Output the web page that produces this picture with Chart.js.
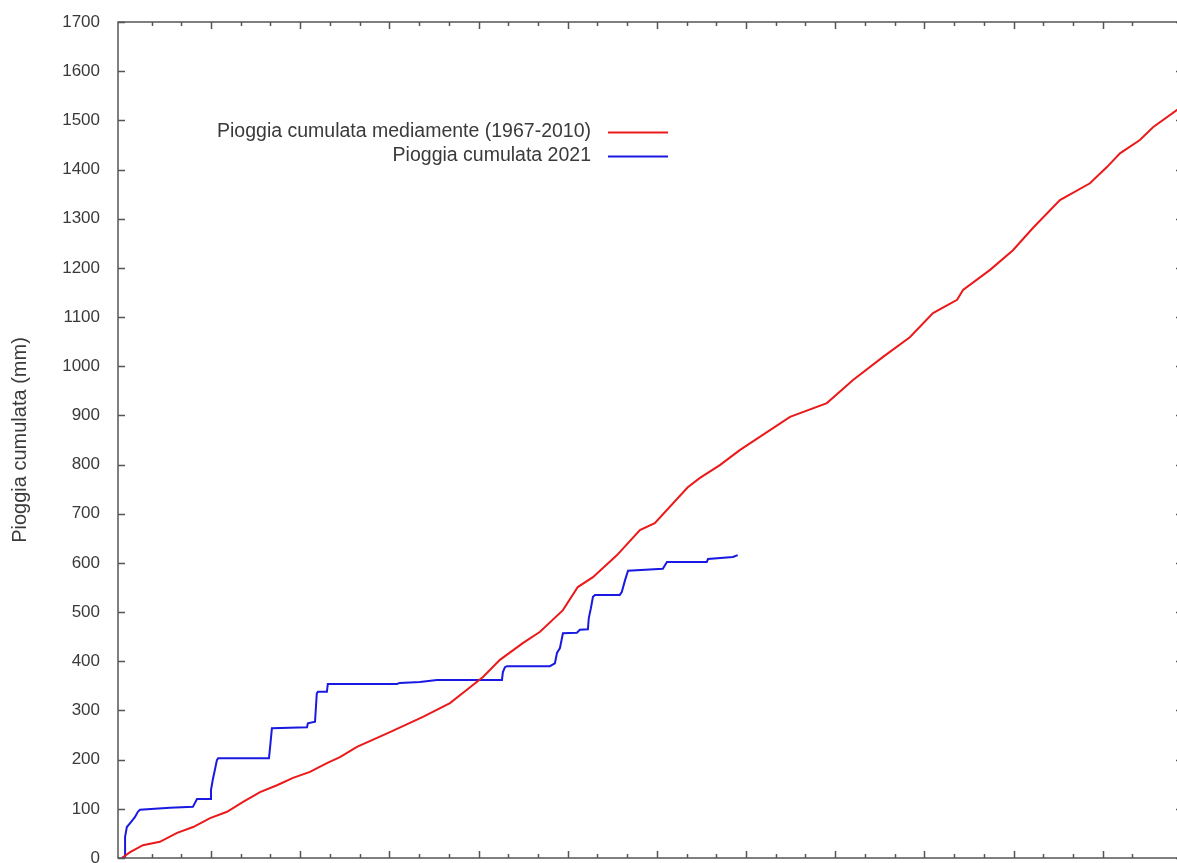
<!DOCTYPE html>
<html>
<head>
<meta charset="utf-8">
<script src="https://cdn.jsdelivr.net/npm/chart.js@4/dist/chart.umd.min.js"></script>
<style>
  html, body { margin: 0; padding: 0; background: #fff; overflow: hidden; }
  #wrap { width: 1190px; height: 863px; }
</style>
</head>
<body>
<div id="wrap"><canvas id="rain" width="1190" height="863"></canvas></div>
<script>
// cumulative rain, x = day of the year, y = mm

const avgDays = [0, 2.8, 7.1, 12.8, 18.6, 24.0, 29.7, 35.4, 40.8, 46.5, 52.2, 57.6, 63.3, 69.0, 73.4,
  79.1, 90.2, 101.3, 110.4, 116.1, 121.5, 127.2, 134.9, 140.7, 148.4, 153.4, 158.5, 166.6, 174.3,
  179.3, 190.4, 194.5, 201.2, 208.0, 224.8, 237.2, 246.0, 256.1, 265.1, 272.9, 281.0, 283.0,
  292.1, 299.8, 306.5, 315.6, 325.7, 331.4, 335.8, 342.5, 346.9, 355.0, 357.0];
const avgMm = [0, 12, 26, 33, 51, 63, 81, 94, 114, 134, 148, 163, 175, 193, 205,
  226, 256, 287, 315, 342, 368, 403, 437, 460, 504, 551, 571, 616, 667,
  681, 754, 773, 799, 830, 897, 925, 972, 1019, 1059, 1108, 1135, 1155,
  1196, 1236, 1281, 1338, 1372, 1405, 1433, 1460, 1486, 1521, 1525];

const rainDays = [0, 1.1, 1.1, 1.7, 2.8, 4.4, 5.4, 6.1, 16.2, 23.9, 25.3, 29.7, 30.0, 30.6, 31.3,
  32.0, 32.4, 49.5, 49.8, 50.5, 62.3, 62.6, 65.0, 65.6, 66.0, 69.0, 69.3, 92.6, 93.5, 100.3,
  106.0, 127.9, 128.2, 128.9, 129.6, 144.0, 145.7, 146.4, 147.4, 148.4, 153.1, 154.1, 156.8,
  157.1, 157.8, 158.5, 159.2, 167.5, 168.2, 169.3, 170.3, 182.0, 183.4, 196.8, 197.2, 205.6, 207.2];
const rainMm = [0, 2, 43, 63, 71, 83, 94, 98, 102, 104, 120, 120, 138, 159, 179,
  199, 203, 203, 220, 264, 266, 274, 277, 335, 338, 338, 354, 354, 356, 358,
  362, 362, 378, 388, 390, 390, 396, 417, 427, 457, 458, 464, 465,
  488, 508, 531, 535, 535, 541, 565, 584, 588, 602, 602, 608, 612, 616];

const seriesLabels = ['Pioggia cumulata mediamente (1967-2010)', 'Pioggia cumulata 2021'];
const yTitle = 'Pioggia cumulata (mm)';

const INK = '#3a3a3a';
const FRAME = '#555';
const FONT = '"Liberation Sans", Arial, sans-serif';

const toPoints = (xs, ys) => xs.map((x, i) => ({ x, y: ys[i] }));

// gnuplot style frame with inward ticks on all four sides
const frame = {
  id: 'frame',
  afterDatasetsDraw(chart) {
    const { ctx, chartArea: a, scales: { x, y } } = chart;
    ctx.save();
    ctx.strokeStyle = FRAME;
    ctx.lineWidth = 1.5;
    ctx.strokeRect(a.left, a.top, a.right - a.left, a.bottom - a.top);
    ctx.beginPath();
    x.ticks.forEach(t => {
      if (t.value < 0) return;
      const px = Math.round(x.getPixelForValue(t.value)) + 0.5;
      const len = t.value % 30 === 0 ? 7 : 4;
      ctx.moveTo(px, a.bottom); ctx.lineTo(px, a.bottom - len);
      ctx.moveTo(px, a.top); ctx.lineTo(px, a.top + len);
    });
    y.ticks.forEach(t => {
      const py = Math.round(y.getPixelForValue(t.value)) + 0.5;
      ctx.moveTo(a.left, py); ctx.lineTo(a.left + 7, py);
      ctx.moveTo(a.right, py); ctx.lineTo(a.right - 7, py);
    });
    ctx.stroke();
    ctx.restore();
  },
};

// key in the upper left: right-aligned text followed by a line sample
const key = {
  id: 'key',
  afterDraw(chart) {
    const { ctx } = chart;
    ctx.save();
    ctx.font = '19.5px ' + FONT;
    ctx.textAlign = 'right';
    ctx.textBaseline = 'middle';
    chart.data.datasets.forEach((ds, i) => {
      const yy = 132 + i * 24;
      ctx.fillStyle = INK;
      ctx.fillText(ds.label, 591, yy);
      ctx.strokeStyle = ds.borderColor;
      ctx.lineWidth = 2;
      ctx.beginPath();
      ctx.moveTo(608, yy + 0.5);
      ctx.lineTo(668, yy + 0.5);
      ctx.stroke();
    });
    ctx.restore();
  },
};

new Chart(document.getElementById('rain'), {
  type: 'line',
  data: {
    datasets: [
      {
        label: seriesLabels[0],
        data: toPoints(avgDays, avgMm),
        borderColor: 'rgb(235,25,25)',
        borderWidth: 2,
        pointRadius: 0,
        tension: 0,
      },
      {
        label: seriesLabels[1],
        data: toPoints(rainDays, rainMm),
        borderColor: 'rgb(25,25,225)',
        borderWidth: 2,
        pointRadius: 0,
        tension: 0,
      },
    ],
  },
  options: {
    responsive: false,
    devicePixelRatio: 1,
    animation: false,
    layout: { padding: { top: 22, bottom: 5, left: 0, right: 7 } },
    plugins: { legend: { display: false }, tooltip: { enabled: false } },
    scales: {
      x: {
        type: 'linear',
        min: -1.28,
        max: 357,
        ticks: { display: false, stepSize: 10 },
        grid: { drawOnChartArea: false, drawTicks: false },
        border: { display: false },
        afterFit: s => { s.height = 0; s.paddingLeft = 0; s.paddingRight = 0; },
      },
      y: {
        min: 0,
        max: 1700,
        ticks: {
          stepSize: 100,
          padding: 18,
          color: INK,
          font: { family: FONT, size: 17 },
          callback: v => String(v),
        },
        grid: { drawOnChartArea: false, drawTicks: false },
        border: { display: false },
        title: {
          display: true,
          text: yTitle,
          color: INK,
          font: { family: FONT, size: 20 },
          padding: { top: 8, bottom: 0 },
        },
        afterFit: s => { s.width = 118; s.paddingTop = 0; s.paddingBottom = 0; },
      },
    },
  },
  plugins: [frame, key],
});
</script>
</body>
</html>
